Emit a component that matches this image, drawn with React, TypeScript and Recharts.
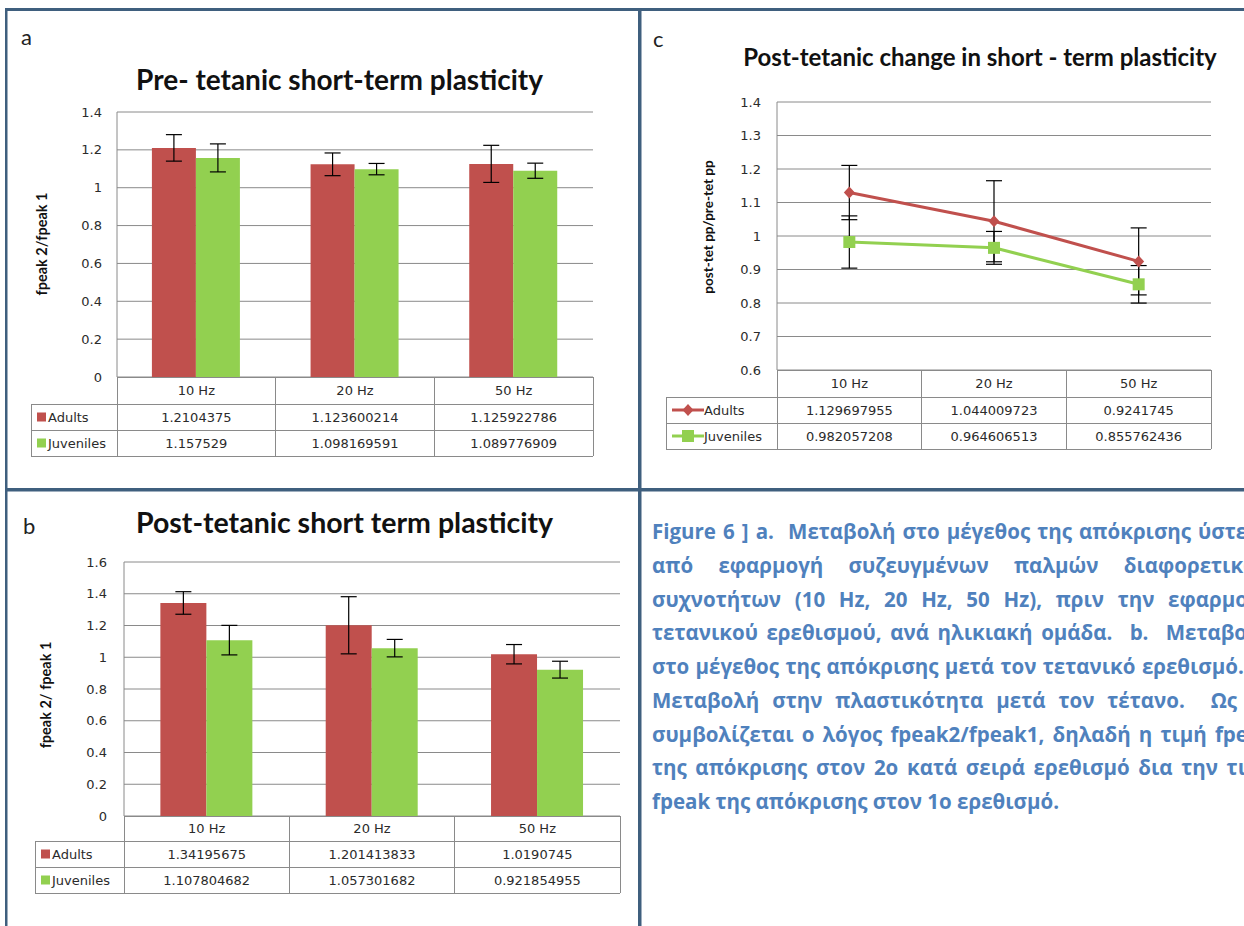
import React from 'react';
import { Bar, BarChart, CartesianGrid, ErrorBar, Line, LineChart, XAxis, YAxis } from 'recharts';

const categories = ['10 Hz', '20 Hz', '50 Hz'];

// a: pre-tetanic short-term plasticity
const preAdults = [1.2104375, 1.123600214, 1.125922786];
const preJuveniles = [1.157529, 1.098169591, 1.089776909];
const preAdultsErr = [0.07, 0.06, 0.098];
const preJuvenilesErr = [0.074, 0.03, 0.04];

// b: post-tetanic short term plasticity
const postAdults = [1.34195675, 1.201413833, 1.0190745];
const postJuveniles = [1.107804682, 1.057301682, 0.921854955];
const postAdultsErr = [0.071, 0.18, 0.061];
const postJuvenilesErr = [0.093, 0.055, 0.053];

// c: post-tetanic change
const changeAdults = [1.129697955, 1.044009723, 0.9241745];
const changeJuveniles = [0.982057208, 0.964606513, 0.855762436];
const changeAdultsErr = [0.081, 0.121, 0.1];
const changeJuvenilesErr = [0.078, 0.049, 0.056];

const ticksA = [0, 0.2, 0.4, 0.6, 0.8, 1, 1.2, 1.4];
const ticksB = [0, 0.2, 0.4, 0.6, 0.8, 1, 1.2, 1.4, 1.6];
const ticksC = [0.6, 0.7, 0.8, 0.9, 1, 1.1, 1.2, 1.3, 1.4];

const captionLines = [
  'Figure 6 ] a.\u00a0 Μεταβολή στο μέγεθος της απόκρισης ύστερα',
  'από εφαρμογή συζευγμένων παλμών διαφορετικών',
  'συχνοτήτων (10 Hz, 20 Hz, 50 Hz), πριν την εφαρμογή',
  'τετανικού ερεθισμού, ανά ηλικιακή ομάδα.\u00a0 b.\u00a0 Μεταβολή',
  'στο μέγεθος της απόκρισης μετά τον τετανικό ερεθισμό.\u00a0 c.',
  'Μεταβολή στην πλαστικότητα μετά τον τέτανο.\u00a0 Ως',
  'συμβολίζεται ο λόγος fpeak2/fpeak1, δηλαδή η τιμή fpeak',
  'της απόκρισης στον 2ο κατά σειρά ερεθισμό δια την τιμή',
  'fpeak της απόκρισης στον 1ο ερεθισμό.',
];

const RED = '#C0504D';
const GREEN = '#92D050';
const GRID = '#8a8a8a';
const TEXT = '#2b2b2b';
const FRAME = '#3f5f7e';
const TICK_FONT = "'DejaVu Sans', Verdana, sans-serif";
const TITLE_FONT = "Lato, 'Open Sans', sans-serif";

const toRows = (a: number[], j: number[], ae: number[], je: number[]) =>
  categories.map((name, i) => ({ name, adults: a[i], juveniles: j[i], adultsErr: ae[i], juvenilesErr: je[i] }));

const preData = toRows(preAdults, preJuveniles, preAdultsErr, preJuvenilesErr);
const postData = toRows(postAdults, postJuveniles, postAdultsErr, postJuvenilesErr);
const changeData = toRows(changeAdults, changeJuveniles, changeAdultsErr, changeJuvenilesErr);

const tickText = { fontFamily: TICK_FONT, fontSize: 13, fill: TEXT };

// x tick = the data table column (category + both series values)
function TableTick(props: any) {
  const { x, y, payload, rowMid, adults, juveniles } = props;
  const i = categories.indexOf(payload.value);
  const top = y - 8;
  return (
    <g>
      <text x={x} y={top + rowMid[0]} textAnchor="middle" dominantBaseline="central" {...tickText}>{payload.value}</text>
      <text x={x} y={top + rowMid[1]} textAnchor="middle" dominantBaseline="central" {...tickText}>{String(adults[i])}</text>
      <text x={x} y={top + rowMid[2]} textAnchor="middle" dominantBaseline="central" {...tickText}>{String(juveniles[i])}</text>
    </g>
  );
}

function Diamond(props: any) {
  const { cx, cy } = props;
  if (cx == null || cy == null) return null;
  return <path d={`M${cx},${cy - 6}L${cx + 5.5},${cy}L${cx},${cy + 6}L${cx - 5.5},${cy}Z`} fill={RED} />;
}

function Square(props: any) {
  const { cx, cy } = props;
  if (cx == null || cy == null) return null;
  return <rect x={cx - 6} y={cy - 6} width={12} height={12} fill={GREEN} />;
}

function BarPanel({ data, height, margin, yWidth, domain, ticks, tickMargin, rowMid, adults, juveniles }: any) {
  return (
    <BarChart width={640} height={height} data={data} margin={margin} barCategoryGap="22%" barGap={0}>
      <CartesianGrid vertical={false} stroke={GRID} />
      <XAxis
        dataKey="name"
        height={80}
        axisLine={false}
        tickLine={false}
        tickSize={6}
        tickMargin={2}
        interval={0}
        tick={<TableTick rowMid={rowMid} adults={adults} juveniles={juveniles} />}
      />
      <YAxis
        width={yWidth}
        domain={domain}
        ticks={ticks}
        interval={0}
        axisLine={{ stroke: GRID }}
        tickLine={false}
        tickSize={6}
        tickMargin={tickMargin}
        tickFormatter={(v: number) => String(v)}
        tick={tickText}
      />
      <Bar dataKey="adults" fill={RED} isAnimationActive={false}>
        <ErrorBar dataKey="adultsErr" width={8} stroke="#000" strokeWidth={1.2} direction="y" />
      </Bar>
      <Bar dataKey="juveniles" fill={GREEN} isAnimationActive={false}>
        <ErrorBar dataKey="juvenilesErr" width={8} stroke="#000" strokeWidth={1.2} direction="y" />
      </Bar>
    </BarChart>
  );
}

function TableGrid({ left, axis, right, rows }: any) {
  const colW = (right - axis) / categories.length;
  const bottom = rows[rows.length - 1];
  return (
    <g stroke={GRID} strokeWidth={1} shapeRendering="crispEdges">
      <line x1={axis} x2={right} y1={rows[0]} y2={rows[0]} />
      {rows.slice(1).map((r: number) => (
        <line key={r} x1={left} x2={right} y1={r} y2={r} />
      ))}
      <line x1={left} x2={left} y1={rows[1]} y2={bottom} />
      {categories.map((c, i) => (
        <line key={c} x1={axis + colW * (i + 1)} x2={axis + colW * (i + 1)} y1={rows[0]} y2={bottom} />
      ))}
      <line x1={axis} x2={axis} y1={rows[0]} y2={bottom} />
    </g>
  );
}

function BoxLegend({ left, rows }: any) {
  const items = [
    { label: 'Adults', color: RED, cy: (rows[1] + rows[2]) / 2 },
    { label: 'Juveniles', color: GREEN, cy: (rows[2] + rows[3]) / 2 },
  ];
  return (
    <g>
      {items.map((it) => (
        <g key={it.label}>
          <rect x={left + 6} y={it.cy - 4.5} width={9} height={9} fill={it.color} />
          <text x={left + 17} y={it.cy} dominantBaseline="central" {...tickText}>{it.label}</text>
        </g>
      ))}
    </g>
  );
}

function LineLegend({ left, rows }: any) {
  const a = (rows[1] + rows[2]) / 2;
  const j = (rows[2] + rows[3]) / 2;
  return (
    <g>
      <line x1={left + 6} x2={left + 38} y1={a} y2={a} stroke={RED} strokeWidth={3} />
      <Diamond cx={left + 22} cy={a} />
      <text x={left + 38} y={a} dominantBaseline="central" {...tickText}>Adults</text>
      <line x1={left + 6} x2={left + 38} y1={j} y2={j} stroke={GREEN} strokeWidth={3} />
      <Square cx={left + 22} cy={j} />
      <text x={left + 38} y={j} dominantBaseline="central" {...tickText}>Juveniles</text>
    </g>
  );
}

function YTitle({ x, y, size, children }: any) {
  return (
    <text
      transform={`translate(${x},${y}) rotate(-90)`}
      textAnchor="middle"
      dominantBaseline="central"
      fontFamily={TITLE_FONT}
      fontWeight={700}
      fontSize={size}
      fill="#111"
    >
      {children}
    </text>
  );
}

function Title({ x, y, size, children }: any) {
  return (
    <text x={x} y={y} textAnchor="middle" dominantBaseline="central" fontFamily={TITLE_FONT} fontWeight={700} fontSize={size} fill="#111">
      {children}
    </text>
  );
}

const tableA = { left: 31, axis: 117, right: 593, rows: [377, 404, 430, 456] };
const tableB = { left: 35, axis: 124, right: 620, rows: [816, 841, 867, 893] };
const tableC = { left: 666, axis: 777, right: 1211, rows: [370, 397, 423, 449] };

export default function App() {
  return (
    <div style={{ position: 'absolute', left: 0, top: 0, width: 1244, height: 926, overflow: 'hidden', background: '#fff' }}>
      <div style={{ position: 'absolute', left: 0, top: 0 }}>
        <BarPanel
          data={preData}
          height={490}
          margin={{ top: 112, right: 47, bottom: 33, left: 0 }}
          yWidth={117}
          domain={[0, 1.4]}
          ticks={ticksA}
          tickMargin={9}
          rowMid={[13.5, 40, 66]}
          adults={preAdults}
          juveniles={preJuveniles}
        />
      </div>
      <div style={{ position: 'absolute', left: 0, top: 490 }}>
        <BarPanel
          data={postData}
          height={436}
          margin={{ top: 72, right: 20, bottom: 30, left: 0 }}
          yWidth={124}
          domain={[0, 1.6]}
          ticks={ticksB}
          tickMargin={11}
          rowMid={[12.5, 38, 64]}
          adults={postAdults}
          juveniles={postJuveniles}
        />
      </div>
      <div style={{ position: 'absolute', left: 640, top: 0 }}>
        <LineChart width={604} height={490} data={changeData} margin={{ top: 102, right: 33, bottom: 40, left: 0 }}>
          <CartesianGrid vertical={false} stroke={GRID} />
          <XAxis
            dataKey="name"
            scale="band"
            height={80}
            axisLine={false}
            tickLine={false}
            tickSize={6}
            tickMargin={2}
            interval={0}
            tick={<TableTick rowMid={[13.5, 40, 66]} adults={changeAdults} juveniles={changeJuveniles} />}
          />
          <YAxis
            width={137}
            domain={[0.6, 1.4]}
            ticks={ticksC}
            interval={0}
            axisLine={{ stroke: GRID }}
            tickLine={false}
            tickSize={6}
            tickMargin={10}
            tickFormatter={(v: number) => String(v)}
            tick={tickText}
          />
          <Line dataKey="adults" stroke={RED} strokeWidth={3} dot={<Diamond />} activeDot={false} isAnimationActive={false}>
            <ErrorBar dataKey="adultsErr" width={8} stroke="#000" strokeWidth={1.2} direction="y" />
          </Line>
          <Line dataKey="juveniles" stroke={GREEN} strokeWidth={3} dot={<Square />} activeDot={false} isAnimationActive={false}>
            <ErrorBar dataKey="juvenilesErr" width={8} stroke="#000" strokeWidth={1.2} direction="y" />
          </Line>
        </LineChart>
      </div>

      <svg width={1244} height={926} style={{ position: 'absolute', left: 0, top: 0, pointerEvents: 'none' }}>
        <TableGrid {...tableA} />
        <TableGrid {...tableB} />
        <TableGrid {...tableC} />
        <BoxLegend left={tableA.left} rows={tableA.rows} />
        <BoxLegend left={tableB.left} rows={tableB.rows} />
        <LineLegend left={tableC.left} rows={tableC.rows} />

        <Title x={339.5} y={79} size={28}>Pre- tetanic short-term plasticity</Title>
        <Title x={344.5} y={522} size={28.5}>Post-tetanic short term plasticity</Title>
        <Title x={980} y={56} size={24}>Post-tetanic change in short - term plasticity</Title>

        <YTitle x={41} y={244} size={14.5}>fpeak 2/fpeak 1</YTitle>
        <YTitle x={45} y={695} size={14.5}>fpeak 2/ fpeak 1</YTitle>
        <YTitle x={708} y={227} size={13.5}>post-tet pp/pre-tet pp</YTitle>

        <text x={21} y={36} dominantBaseline="central" fontFamily={TITLE_FONT} fontSize={22} fill="#222">a</text>
        <text x={23} y={525} dominantBaseline="central" fontFamily={TITLE_FONT} fontSize={22} fill="#222">b</text>
        <text x={653} y={38} dominantBaseline="central" fontFamily={TITLE_FONT} fontSize={22} fill="#222">c</text>

        <g fill={FRAME}>
          <rect x={5} y={8} width={1239} height={3} />
          <rect x={5} y={8} width={2.5} height={918} />
          <rect x={638} y={8} width={3.5} height={918} />
          <rect x={5} y={488} width={1239} height={3.5} />
        </g>
      </svg>

      <div
        style={{
          position: 'absolute',
          left: 652,
          top: 515,
          fontFamily: "'Open Sans', 'Noto Sans', sans-serif",
          fontWeight: 700,
          fontSize: 20.5,
          lineHeight: '33.75px',
          color: '#4F81BD',
        }}
      >
        {captionLines.map((line, i) => {
          const last = i === captionLines.length - 1;
          const w = i === 5 ? 585 : 621;
          return (
            <div
              key={i}
              style={{ width: w, whiteSpace: 'nowrap', textAlign: last ? 'left' : 'justify', textAlignLast: last ? 'left' : 'justify' }}
            >
              {line}
            </div>
          );
        })}
      </div>
    </div>
  );
}
